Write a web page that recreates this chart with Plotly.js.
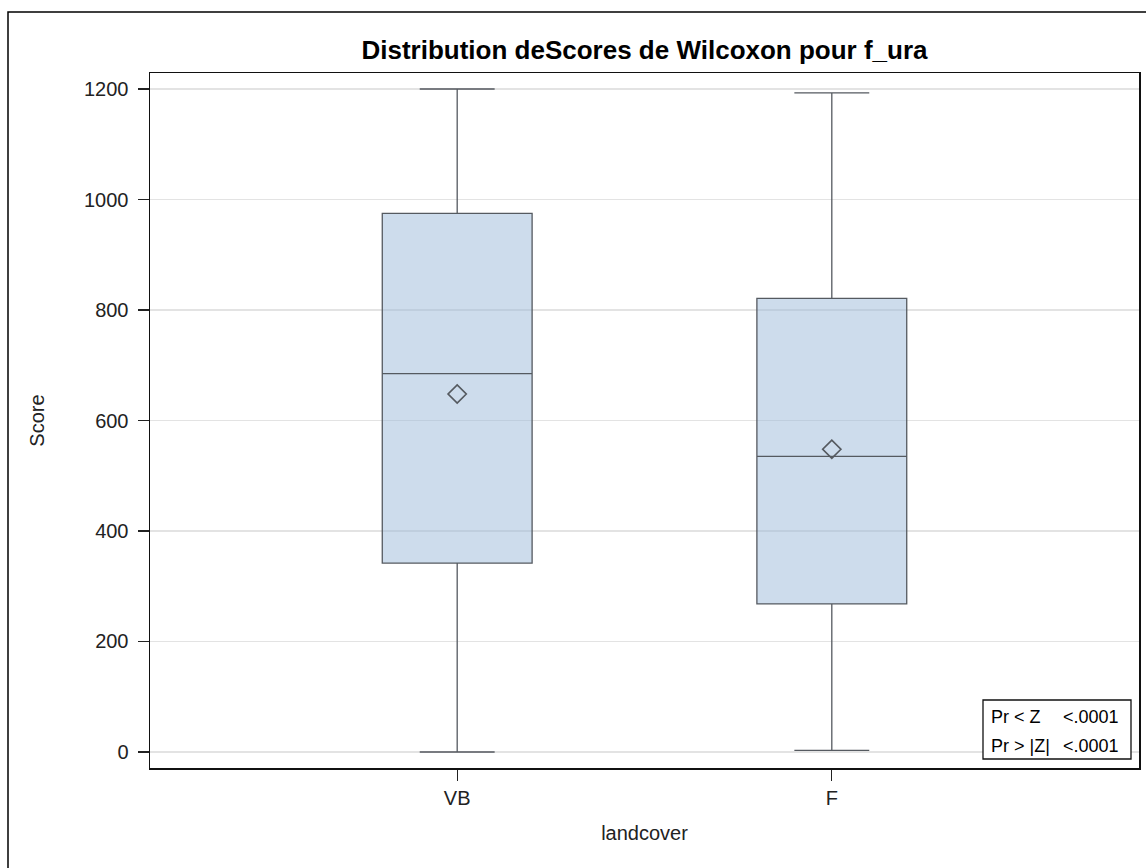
<!DOCTYPE html>
<html>
<head>
<meta charset="utf-8">
<script src="https://cdn.plot.ly/plotly-3.0.1.min.js"></script>
<style>
html,body{margin:0;padding:0;background:#fff;}
#chart{width:1146px;height:868px;}
</style>
</head>
<body>
<div id="chart"></div>
<script>
// Data
const categories = ['VB', 'F'];
const lowerWhisker = [0, 3];
const q1Values = [342, 268];
const medianValues = [685, 535];
const q3Values = [975, 821];
const upperWhisker = [1200, 1193];
const meanValues = [648, 548];
const yTickValues = [0, 200, 400, 600, 800, 1000, 1200];
const statLabels = ['Pr &lt; Z', 'Pr &gt; |Z|'];
const statValues = ['&lt;.0001', '&lt;.0001'];

const FONT = '"Liberation Sans", Arial, sans-serif';
const W = 1146, H = 868;
const L = 150, R = 1139, T = 73, B = 768;
const pw = R - L, ph = B - T;
const px = x => (x - L) / pw;
const py = y => (B - y) / ph;

const traces = [
  {
    type: 'box',
    x: categories,
    q1: q1Values,
    median: medianValues,
    q3: q3Values,
    lowerfence: lowerWhisker,
    upperfence: upperWhisker,
    boxpoints: false,
    width: 0.4,
    whiskerwidth: 0.5,
    fillcolor: 'rgba(155,185,217,0.5)',
    line: {color: '#555a60', width: 1.3},
    hoverinfo: 'skip',
    showlegend: false
  },
  {
    type: 'scatter',
    mode: 'markers',
    x: categories,
    y: meanValues,
    marker: {symbol: 'diamond-open', size: 14, color: '#555a60', line: {width: 1.7, color: '#555a60'}},
    hoverinfo: 'skip',
    showlegend: false
  }
];

const annotations = [];
statLabels.forEach((lab, i) => {
  const yc = [717, 746][i];
  annotations.push({xref: 'paper', yref: 'paper', x: px(989), y: py(yc), xanchor: 'left', yanchor: 'middle',
    text: lab, showarrow: false, font: {family: FONT, size: 18, color: '#000'}});
  annotations.push({xref: 'paper', yref: 'paper', x: px(1121), y: py(yc), xanchor: 'right', yanchor: 'middle',
    text: statValues[i], showarrow: false, font: {family: FONT, size: 18, color: '#000'}});
});

const layout = {
  width: W, height: H,
  paper_bgcolor: '#fff', plot_bgcolor: '#fff',
  margin: {l: L, r: W - R, t: T, b: H - B, pad: 0},
  font: {family: FONT, color: '#222'},
  title: {
    text: '<b>Distribution deScores de Wilcoxon pour f_ura</b>',
    font: {family: FONT, size: 26, color: '#000'},
    xref: 'paper', x: 0.5, xanchor: 'center',
    yref: 'container', y: 1 - 50 / H, yanchor: 'middle'
  },
  xaxis: {
    type: 'category',
    categoryorder: 'array', categoryarray: categories,
    range: [-0.82, 1.82],
    showgrid: false, zeroline: false,
    showline: true, mirror: true, linecolor: '#111', linewidth: 1.5,
    ticks: 'outside', ticklen: 11, tickwidth: 1.3, tickcolor: '#222',
    tickfont: {family: FONT, size: 20, color: '#222'},
    title: {text: 'landcover', font: {family: FONT, size: 20, color: '#222'}, standoff: 18}
  },
  yaxis: {
    range: [-29, 1229],
    tickvals: yTickValues,
    ticktext: yTickValues.map(String),
    showgrid: true, gridcolor: '#e3e3e3', gridwidth: 1.2,
    zeroline: false,
    showline: true, mirror: true, linecolor: '#111', linewidth: 1.5,
    ticks: 'outside', ticklen: 11, tickwidth: 1.3, tickcolor: '#222',
    ticklabelstandoff: 5,
    tickfont: {family: FONT, size: 20, color: '#222'},
    title: {text: 'Score', font: {family: FONT, size: 20, color: '#222'}, standoff: 34}
  },
  shapes: [
    {type: 'rect', xref: 'paper', yref: 'paper', x0: px(8), x1: px(1160), y0: py(880), y1: py(12),
      line: {color: '#000', width: 1.5}, fillcolor: 'rgba(0,0,0,0)', layer: 'below'},
    {type: 'rect', xref: 'paper', yref: 'paper', x0: px(983), x1: px(1131), y0: py(759), y1: py(700),
      line: {color: '#111', width: 1.3}, fillcolor: '#fff', layer: 'above'}
  ],
  annotations: annotations,
  showlegend: false
};

Plotly.newPlot('chart', traces, layout, {displayModeBar: false, staticPlot: true});
</script>
</body>
</html>
